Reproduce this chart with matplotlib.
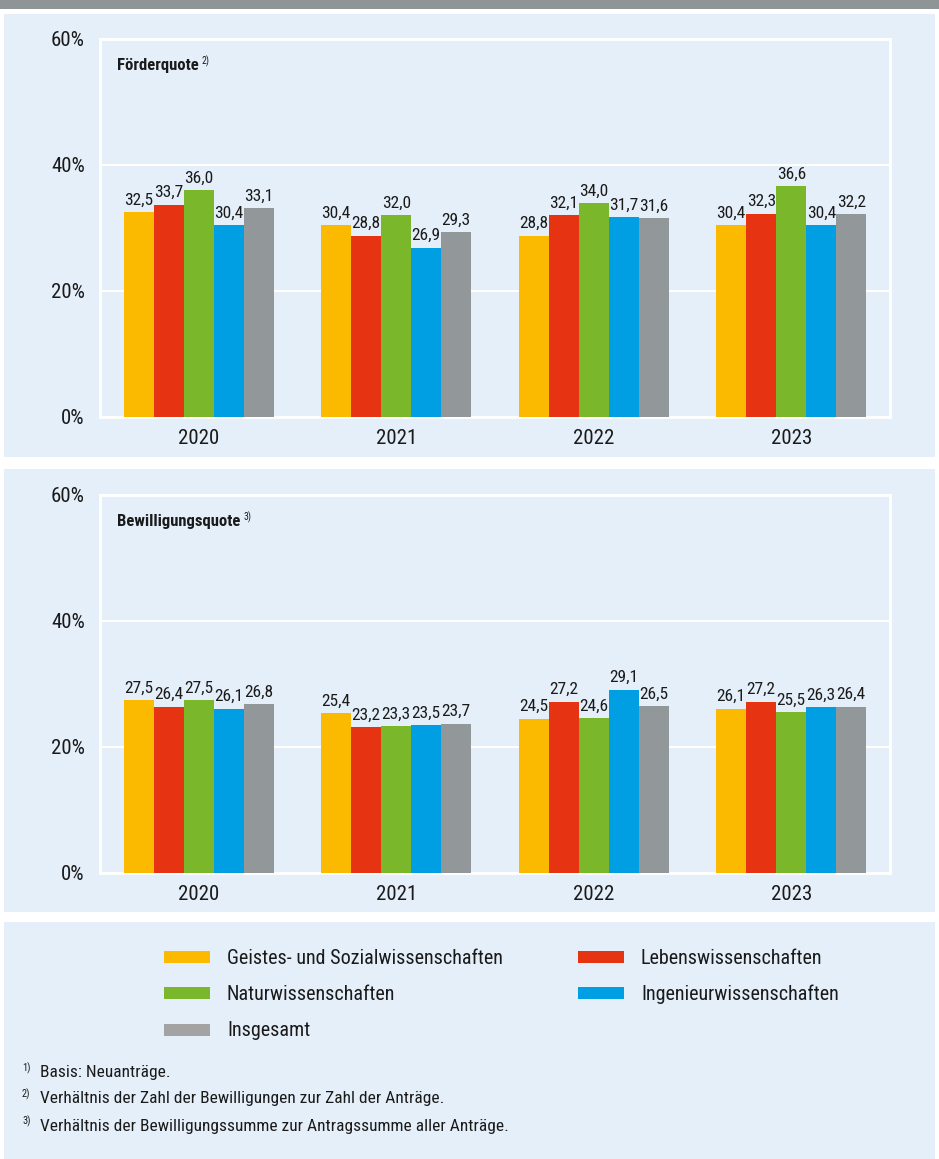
import matplotlib
matplotlib.use("Agg")
import matplotlib.pyplot as plt
from matplotlib.patches import Rectangle
import numpy as np
from matplotlib import font_manager

# pick a condensed font if available
cands = []
for f in font_manager.fontManager.ttflist:
    st = str(f.stretch)
    if 'Narrow' in f.name or 'Condensed' in f.name or st in ('condensed', 'semi-condensed', '600', '700', '500'):
        cands.append((f.name, st, f.fname))
FONT = 'Roboto'
STRETCH = 'normal'
pref = ['Liberation Sans Narrow', 'Roboto Condensed', 'Open Sans Condensed', 'Noto Sans Condensed', 'DejaVu Sans Condensed']
names = {c[0] for c in cands}
for p in pref:
    if p in names:
        FONT = p
        break
else:
    for c in cands:
        if c[0] in ('DejaVu Sans', 'Noto Sans', 'Open Sans', 'Roboto', 'Lato', 'Inter'):
            FONT = c[0]
            STRETCH = 'condensed'
            break
plt.rcParams['font.family'] = [FONT, 'DejaVu Sans']
plt.rcParams['font.stretch'] = STRETCH

years = ['2020', '2021', '2022', '2023']
series = ['Geistes- und Sozialwissenschaften', 'Lebenswissenschaften',
          'Naturwissenschaften', 'Ingenieurwissenschaften', 'Insgesamt']
colors = ['#FBB900', '#E63312', '#7AB72B', '#009FE3', '#929799']
legend_colors = ['#FBB900', '#E63312', '#7AB72B', '#009FE3', '#A3A3A3']

foerder_gsw = [32.5, 30.4, 28.8, 30.4]
foerder_lw = [33.7, 28.8, 32.1, 32.3]
foerder_nw = [36.0, 32.0, 34.0, 36.6]
foerder_iw = [30.4, 26.9, 31.7, 30.4]
foerder_ges = [33.1, 29.3, 31.6, 32.2]

bew_gsw = [27.5, 25.4, 24.5, 26.1]
bew_lw = [26.4, 23.2, 27.2, 27.2]
bew_nw = [27.5, 23.3, 24.6, 25.5]
bew_iw = [26.1, 23.5, 29.1, 26.3]
bew_ges = [26.8, 23.7, 26.5, 26.4]

yticks = [0, 20, 40, 60]
ytick_labels = ['0%', '20%', '40%', '60%']

W, H = 939, 1159
BG = '#E5EFF9'
TXT = '#1a1a1a'
fig = plt.figure(figsize=(W / 100, H / 100), dpi=100)
fig.patch.set_facecolor('white')

def px_rect(x0, y0, x1, y1, color):
    fig.patches.append(Rectangle((x0 / W, 1 - y1 / H), (x1 - x0) / W, (y1 - y0) / H,
                                 transform=fig.transFigure, facecolor=color,
                                 edgecolor='none', zorder=-5))

px_rect(0, 0, 939, 9, '#8F9597')
px_rect(4, 14, 935, 457, BG)
px_rect(4, 469, 935, 912, BG)
px_rect(4, 922, 935, 1159, BG)

def make_axes(top_px, bottom_px, data, title, sup):
    ax = fig.add_axes([100 / W, 1 - bottom_px / H, 790 / W, (bottom_px - top_px) / H])
    ax.set_facecolor(BG)
    x = np.arange(len(years))
    bw = 0.152
    for i, vals in enumerate(data):
        pos = x + (i - 2) * bw
        ax.bar(pos, vals, width=bw, color=colors[i], zorder=3)
        for p, v in zip(pos, vals):
            ax.text(p, v + 0.7, f'{v:.1f}'.replace('.', ','), ha='center', va='bottom',
                    fontsize=12.5, color=TXT, zorder=4)
    ax.set_xlim(-0.5, 3.5)
    ax.set_ylim(0, 60)
    ax.set_yticks(yticks)
    ax.set_yticklabels(ytick_labels, fontsize=15, color=TXT)
    ax.set_xticks(x)
    ax.set_xticklabels(years, fontsize=15, color=TXT)
    ax.tick_params(length=0, pad=11)
    ax.tick_params(axis='x', pad=9)
    ax.grid(axis='y', color='white', linewidth=1.5, zorder=1)
    for s in ax.spines.values():
        s.set_color('white')
        s.set_linewidth(2)
    t = ax.text(17 / 790, 0.929, title, transform=ax.transAxes, fontsize=12, fontweight='bold',
                ha='left', va='center', color=TXT)
    fig.canvas.draw()
    bb = t.get_window_extent()
    inv = ax.transAxes.inverted()
    x1 = inv.transform((bb.x1, bb.y0))[0]
    ax.text(x1 + 3 / 790, 0.942, sup, transform=ax.transAxes,
            fontsize=7, ha='left', va='center', color=TXT)
    return ax

make_axes(39, 417, [foerder_gsw, foerder_lw, foerder_nw, foerder_iw, foerder_ges],
          'Förderquote', '2)')
make_axes(495, 873, [bew_gsw, bew_lw, bew_nw, bew_iw, bew_ges],
          'Bewilligungsquote', '3)')

# legend
leg_pos = [(164, 957), (578, 957), (164, 993), (578, 993), (164, 1030)]
for k, (lx, ly) in enumerate(leg_pos):
    px_rect(lx, ly - 6, lx + 46, ly + 6, legend_colors[k])
    fig.text((lx + 63) / W, 1 - (ly + 1) / H, series[k], fontsize=14.5, ha='left', va='center',
             color=TXT)

notes = ['Basis: Neuanträge.',
         'Verhältnis der Zahl der Bewilligungen zur Zahl der Anträge.',
         'Verhältnis der Bewilligungssumme zur Antragssumme aller Anträge.']
for i, (t, y) in enumerate(zip(notes, [1073, 1099, 1126])):
    fig.text(22 / W, 1 - (y - 5) / H, f'{i + 1})', fontsize=7.5, ha='left', va='center',
             color=TXT)
    fig.text(40 / W, 1 - y / H, t, fontsize=12.5, ha='left', va='center', color=TXT)

fig.savefig('out.png', dpi=100, facecolor='white')
